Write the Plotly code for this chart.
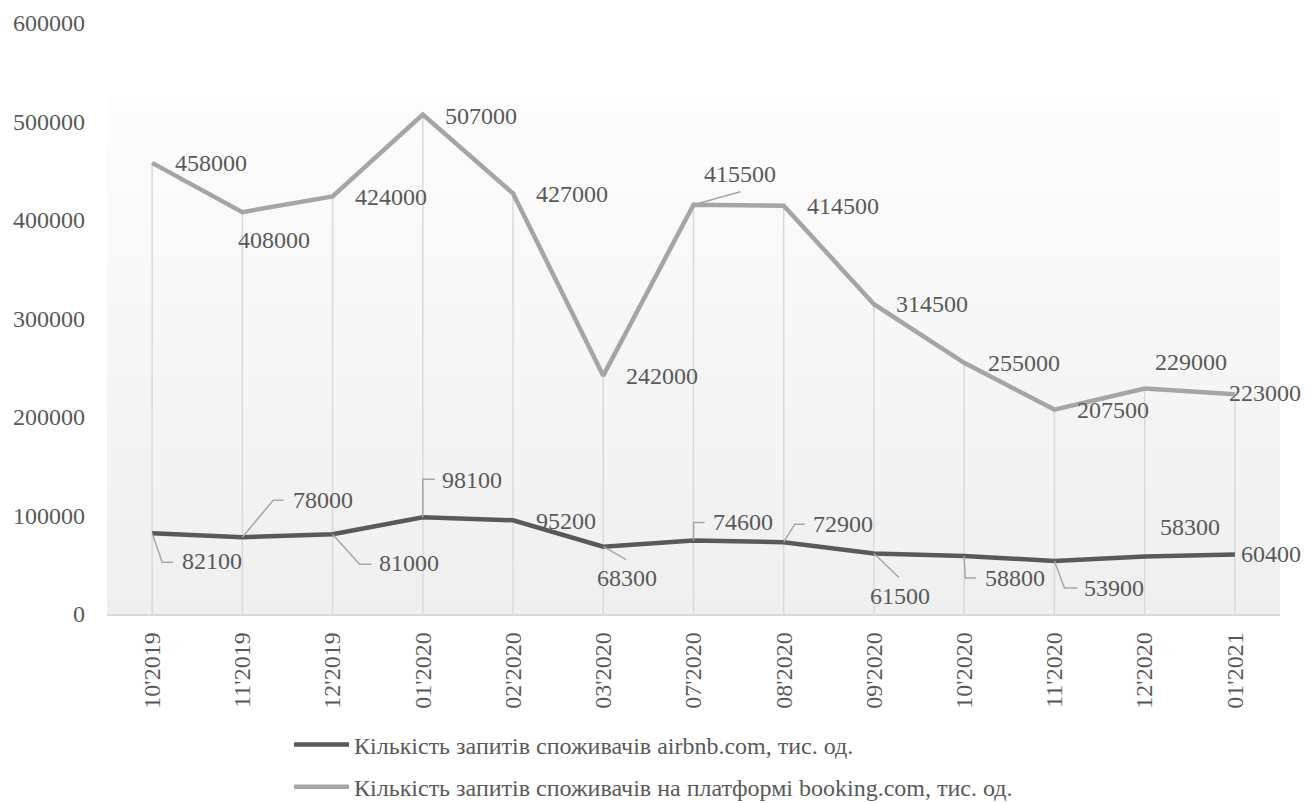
import plotly.graph_objects as go

categories = ["10'2019", "11'2019", "12'2019", "01'2020", "02'2020", "03'2020",
              "07'2020", "08'2020", "09'2020", "10'2020", "11'2020", "12'2020", "01'2021"]
airbnb = [82100, 78000, 81000, 98100, 95200, 68300, 74600, 72900, 61500, 58800, 53900, 58300, 60400]
booking = [458000, 408000, 424000, 507000, 427000, 242000, 415500, 414500, 314500, 255000, 207500, 229000, 223000]
y_ticks = [0, 100000, 200000, 300000, 400000, 500000, 600000]

name_airbnb = "Кількість запитів споживачів airbnb.com, тис. од."
name_booking = "Кількість запитів споживачів на платформі booking.com, тис. од."

# label offsets (pixels, text centre relative to point, y up)
booking_offsets = [(58.5, -1.5), (31.5, -29), (58.5, -1.5), (58, -2), (58.5, -1.5), (58.5, -1),
                   (46, 30), (59.5, -1.5), (58.5, -0.5), (60, -1), (59, -1), (46, 25), (30, 0)]
airbnb_offsets = [(60, -29), (80.5, 36), (76.5, -29.5), (49.5, 36.5), (52.5, -2), (23.5, -32.5),
                  (49, 17.5), (59.5, 17), (26, -43.5), (50.5, -23), (60, -28), (45, 29), (36.5, 0)]
# leader lines (pixel offsets from the point, y up)
airbnb_leaders = {0: [(0, 0), (10, -29), (21, -29)], 1: [(0, 0), (31, 37), (41, 37)],
                  2: [(0, 0), (27, -30), (39, -30)], 3: [(0, 0), (0, 38), (12, 38)],
                  5: [(0, 0), (23, -13)], 6: [(0, 0), (0, 18), (11, 18)],
                  7: [(0, 0), (11, 18), (21, 18)], 8: [(0, 0), (25, -24)],
                  9: [(0, 0), (1, -22), (12, -22)], 10: [(0, 0), (10, -27), (23, -27)]}
booking_leaders = {6: [(0, 0), (47, 13)]}

FONT = "Liberation Serif, Times New Roman, serif"
TXT = "#595959"
FS = 24
x = list(range(len(categories)))

fig = go.Figure()

# drop lines
dx, dy = [], []
for i in x:
    dx += [i, i, None]
    dy += [0, max(booking[i], airbnb[i]), None]
fig.add_trace(go.Scatter(x=dx, y=dy, mode="lines", line=dict(color="#d9d9d9", width=1.5),
                         showlegend=False, hoverinfo="skip"))

fig.add_trace(go.Scatter(x=x, y=airbnb, mode="lines", name=name_airbnb,
                         line=dict(color="#595959", width=4.5), legendgroup="a"))
fig.add_trace(go.Scatter(x=x, y=booking, mode="lines", name=name_booking,
                         line=dict(color="#a5a5a5", width=4.5), legendgroup="b"))

shapes = []
# gradient background of plot area
top_frac = 0.8748
n = 60
for k in range(n):
    y0 = top_frac * k / n
    y1 = top_frac * (k + 1) / n
    t = (k + 0.5) / n  # 0 bottom -> 1 top
    c = int(round(239 + (253 - 239) * t))
    shapes.append(dict(type="rect", xref="paper", yref="paper", x0=0, x1=1, y0=y0,
                       y1=min(y1 + 0.001, top_frac),
                       fillcolor=f"rgb({c},{c},{c})", line=dict(width=0), layer="below"))

def leader(i, val, pts):
    path = "M" + " L".join(f"{px},{py}" for px, py in pts)
    return dict(type="path", xref="x", yref="y", xsizemode="pixel", ysizemode="pixel",
                xanchor=i, yanchor=val, path=path, line=dict(color="#a6a6a6", width=1.5),
                layer="above")

for i, pts in airbnb_leaders.items():
    shapes.append(leader(i, airbnb[i], pts))
for i, pts in booking_leaders.items():
    shapes.append(leader(i, booking[i], pts))

annotations = []
YC = 1
for i in x:
    ox, oy = booking_offsets[i]
    annotations.append(dict(x=i, y=booking[i], text=str(booking[i]), showarrow=False,
                            xshift=ox, yshift=oy + YC, xanchor="center", yanchor="middle",
                            font=dict(family=FONT, size=FS, color=TXT)))
    ox, oy = airbnb_offsets[i]
    annotations.append(dict(x=i, y=airbnb[i], text=str(airbnb[i]), showarrow=False,
                            xshift=ox, yshift=oy + YC, xanchor="center", yanchor="middle",
                            font=dict(family=FONT, size=FS, color=TXT)))

fig.update_layout(
    width=1305, height=803,
    margin=dict(l=107, r=25, t=23, b=189, autoexpand=False),
    paper_bgcolor="white", plot_bgcolor="white",
    font=dict(family=FONT, size=FS, color=TXT),
    shapes=shapes, annotations=annotations,
    showlegend=True,
    legend=dict(x=0.1552, y=-0.1834, xanchor="left", yanchor="top", orientation="v",
                font=dict(family=FONT, size=FS, color=TXT), tracegroupgap=8,
                itemwidth=55, bgcolor="rgba(0,0,0,0)"),
    xaxis=dict(range=[-0.5, len(categories) - 0.5], tickmode="array", tickvals=x,
               ticktext=categories, tickangle=-90, showgrid=False, zeroline=False,
               showline=True, linecolor="#d9d9d9", linewidth=1.5, ticks="", automargin=False,
               ticklabelstandoff=7, tickfont=dict(family=FONT, size=FS, color=TXT)),
    yaxis=dict(range=[0, 600000], tickmode="array", tickvals=y_ticks, tickformat="d",
               showgrid=False, zeroline=False, showline=False, ticks="", automargin=False,
               ticklabelstandoff=21, tickfont=dict(family=FONT, size=FS, color=TXT)),
)

fig.write_html("out.html")
